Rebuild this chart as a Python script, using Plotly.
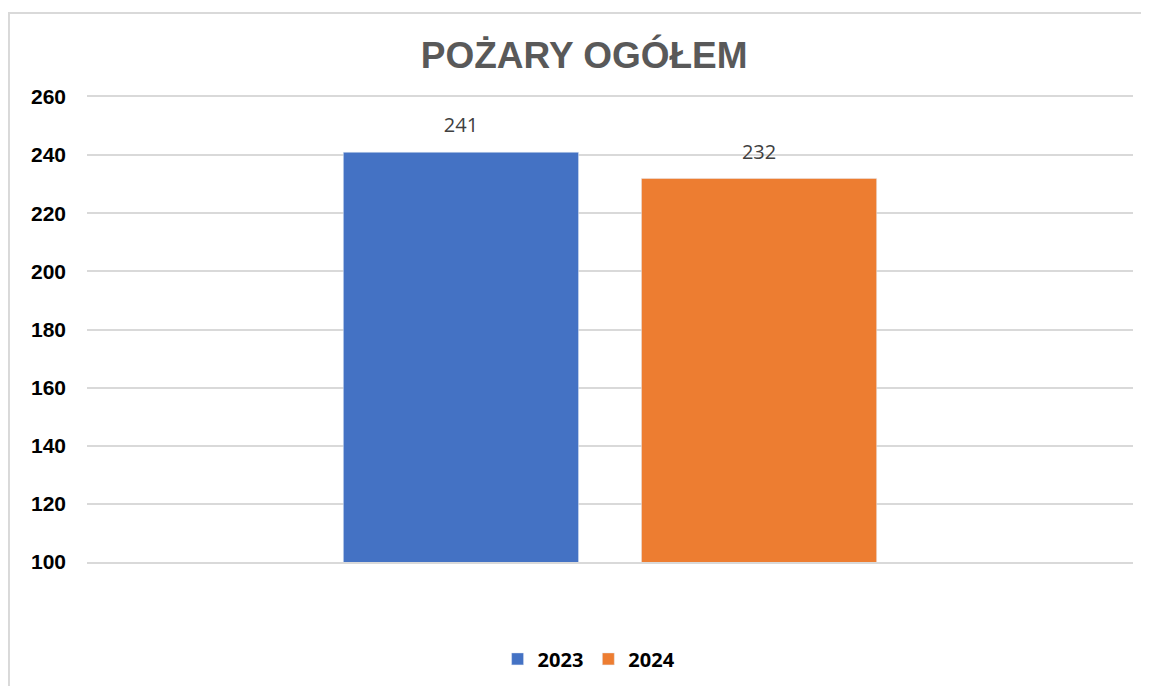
import plotly.graph_objects as go

categories = [""]
series_names = ["2023", "2024"]
values_2023 = [241]
values_2024 = [232]
colors = ["#4472C4", "#ED7D31"]
y_ticks = [100, 120, 140, 160, 180, 200, 220, 240, 260]

fig = go.Figure()
for name, vals, col in zip(series_names, [values_2023, values_2024], colors):
    fig.add_trace(go.Bar(
        x=categories, y=vals, name=name, marker_color=col, offsetgroup=name,
        hoverinfo="skip",
    ))
for name, vals in zip(series_names, [values_2023, values_2024]):
    fig.add_trace(go.Scatter(
        x=categories, y=vals, mode="markers+text", text=[str(v) for v in vals],
        textposition="top center", offsetgroup=name, showlegend=False, cliponaxis=False,
        marker=dict(size=22, opacity=0),
        textfont=dict(family="Open Sans", size=20, color="#404040"),
        hoverinfo="skip",
    ))

fig.update_layout(
    width=1141, height=678,
    margin=dict(l=79, r=16, t=89, b=124),
    paper_bgcolor="white", plot_bgcolor="white",
    barmode="group", bargap=0.43, bargroupgap=0.211,
    scattermode="group", scattergap=0.43,
    title=dict(text="<b>POŻARY OGÓŁEM</b>", x=0.505, xanchor="center", y=0.931, yanchor="middle",
               font=dict(family="Liberation Sans", size=37, color="#595959")),
    showlegend=True,
    legend=dict(orientation="h", x=0.48, xanchor="center", yref="container", y=0.04, yanchor="middle",
                font=dict(family="Open Sans", size=20, color="#000000", weight="bold"),
                itemwidth=30, traceorder="normal"),
    xaxis=dict(showticklabels=False, showgrid=False, zeroline=False,
               showline=True, mirror=True, linecolor="#d9d9d9", linewidth=2),
    yaxis=dict(range=[100, 260], tickvals=y_ticks, showgrid=True, gridcolor="#d9d9d9", gridwidth=2,
               zeroline=False, showline=False, ticks="", ticklabelstandoff=20,
               tickfont=dict(family="Liberation Sans", size=21, color="#000000", weight="bold")),
    shapes=[dict(type="rect", xref="paper", yref="paper", x0=-0.0746, x1=1.03, y0=-0.30, y1=1.1806,
                 line=dict(color="#d9d9d9", width=2), fillcolor="rgba(0,0,0,0)", layer="below")],
)

fig.write_html("out.html")
